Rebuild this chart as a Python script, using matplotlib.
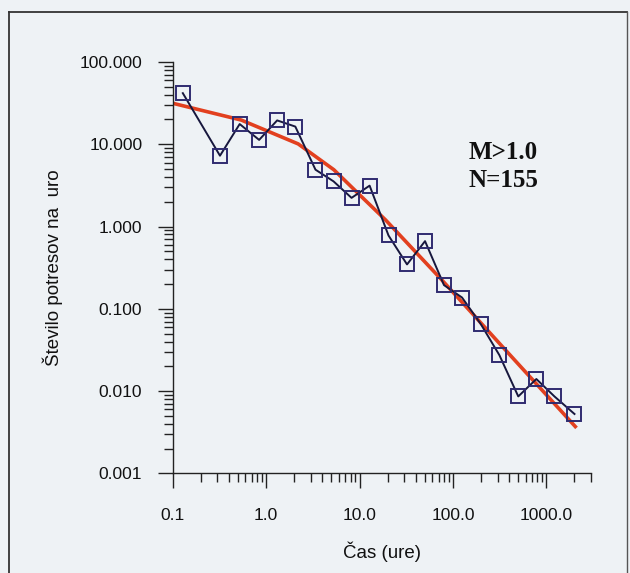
import numpy as np
import matplotlib
matplotlib.use('Agg')
import matplotlib.pyplot as plt
from matplotlib.ticker import LogLocator, FixedLocator, FixedFormatter, NullFormatter

# observed hourly rate of aftershocks
cas = [0.128, 0.32, 0.52, 0.84, 1.31, 2.05, 3.37, 5.26, 8.2, 12.8, 20.4,
       32.2, 50.2, 80.1, 125, 199, 314, 500, 781, 1220, 2000]
stevilo = [41.8, 7.26, 17.6, 11.3, 19.5, 16.4, 4.91, 3.54, 2.23, 3.14, 0.778,
           0.346, 0.664, 0.194, 0.137, 0.0649, 0.0273, 0.0086, 0.014, 0.0086, 0.00526]

# fitted curve (red)
fit_cas = [0.1, 0.54, 2.2, 5.3, 10.5, 19, 76, 314, 2040]
fit_stevilo = [31.5, 19.7, 10.1, 4.9, 2.3, 1.2, 0.224, 0.038, 0.0037]

yticks = [0.001, 0.01, 0.1, 1, 10, 100]
ylabels = ['0.001', '0.010', '0.100', '1.000', '10.000', '100.000']
xticks = [0.1, 1, 10, 100, 1000]
xlabels = ['0.1', '1.0', '10.0', '100.0', '1000.0']

bg = '#eef2f5'
fig = plt.figure(figsize=(6.3, 5.73), dpi=100, facecolor=bg)
ax = fig.add_axes([0.2743, 0.174, 0.938 - 0.2743, 0.8918 - 0.174])
ax.set_facecolor(bg)

ax.plot(fit_cas, fit_stevilo, color='#e2401f', lw=2.6, zorder=2)
ax.plot(cas, stevilo, color='#17173d', lw=1.4, zorder=3,
        marker='s', ms=10.5, mfc='none', mec='#2f2b70', mew=1.4)

ax.set_xscale('log')
ax.set_yscale('log')
ax.set_xlim(0.1, 3000)
ax.set_ylim(0.001, 100)

for s in ['top', 'right']:
    ax.spines[s].set_visible(False)
for s in ['left', 'bottom']:
    ax.spines[s].set_color('#222222')
    ax.spines[s].set_linewidth(1.0)

ax.xaxis.set_major_locator(FixedLocator(xticks))
ax.xaxis.set_major_formatter(FixedFormatter(xlabels))
ax.yaxis.set_major_locator(FixedLocator(yticks))
ax.yaxis.set_major_formatter(FixedFormatter(ylabels))
ax.xaxis.set_minor_locator(LogLocator(base=10, subs=np.arange(2, 10)))
ax.yaxis.set_minor_locator(LogLocator(base=10, subs=np.arange(2, 10)))
ax.xaxis.set_minor_formatter(NullFormatter())
ax.yaxis.set_minor_formatter(NullFormatter())

ax.tick_params(which='major', direction='out', length=11, width=1.0, color='#222222',
               labelsize=12.5, labelcolor='#111111')
ax.tick_params(axis='y', which='major', pad=11)
ax.tick_params(axis='x', which='major', pad=14)
ax.tick_params(which='minor', direction='out', length=6.5, width=1.0, color='#222222')
for lab in ax.get_xticklabels() + ax.get_yticklabels():
    lab.set_family('Liberation Sans')

ax.set_xlabel('Čas (ure)', fontsize=13.5, family='Liberation Sans', color='#111111', labelpad=13)
ax.set_ylabel('Število potresov na  uro', fontsize=13.5, family='Liberation Sans',
              color='#111111', labelpad=12)

ax.text(0.708, 0.781, 'M>1.0', transform=ax.transAxes, fontsize=18,
        fontweight='bold', family='Liberation Serif', color='#111111',
        va='center', ha='left')
ax.text(0.708, 0.713, 'N=155', transform=ax.transAxes, fontsize=18,
        fontweight='bold', family='Liberation Serif', color='#111111',
        va='center', ha='left')

# outer frame of the scanned figure
fig.add_artist(plt.Line2D([9 / 630, 9 / 630], [0, 1 - 12 / 573], color='#333333', lw=1.3))
fig.add_artist(plt.Line2D([9 / 630, 627 / 630], [1 - 12 / 573, 1 - 12 / 573], color='#333333', lw=1.3))
fig.add_artist(plt.Line2D([627 / 630, 627 / 630], [0, 1 - 12 / 573], color='#555555', lw=1.0))

fig.savefig('out.png', dpi=100, facecolor=bg)
